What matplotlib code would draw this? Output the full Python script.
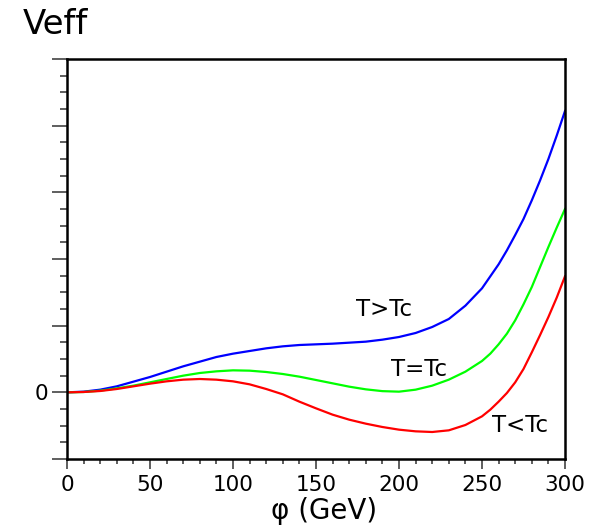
import matplotlib
matplotlib.use("Agg")
import matplotlib.pyplot as plt
from matplotlib.ticker import MultipleLocator, FixedLocator, FixedFormatter

plt.rcParams['font.family'] = ['DejaVu Sans']

phi = [0, 10, 20, 30, 40, 50, 60, 70, 80, 90, 100, 110, 120, 130, 140, 150,
       160, 170, 180, 190, 200, 210, 220, 230, 240, 250, 255, 260, 265, 270,
       275, 280, 285, 290, 295, 300]

v_above = [0, 0.01, 0.04, 0.09, 0.16, 0.23, 0.31, 0.39, 0.46, 0.53, 0.58, 0.62,
           0.66, 0.69, 0.71, 0.72, 0.73, 0.745, 0.76, 0.79, 0.83, 0.89, 0.98,
           1.10, 1.30, 1.56, 1.74, 1.92, 2.13, 2.36, 2.60, 2.88, 3.18, 3.50,
           3.85, 4.22]

v_crit = [0, 0.005, 0.025, 0.06, 0.10, 0.15, 0.20, 0.25, 0.29, 0.315, 0.33,
          0.325, 0.305, 0.275, 0.235, 0.185, 0.135, 0.085, 0.045, 0.018, 0.01,
          0.04, 0.10, 0.19, 0.31, 0.47, 0.58, 0.72, 0.88, 1.08, 1.32, 1.58,
          1.88, 2.18, 2.47, 2.75]

v_below = [0, 0.005, 0.02, 0.05, 0.09, 0.13, 0.165, 0.19, 0.20, 0.19, 0.165,
           0.12, 0.05, -0.03, -0.14, -0.24, -0.335, -0.41, -0.47, -0.52, -0.56,
           -0.585, -0.595, -0.57, -0.49, -0.36, -0.26, -0.14, -0.01, 0.15,
           0.35, 0.60, 0.86, 1.13, 1.42, 1.74]

labels = ["T>Tc", "T=Tc", "T<Tc"]
label_x = [191, 212, 273]
label_y = [1.25, 0.34, -0.5]

x_ticks = [0, 50, 100, 150, 200, 250, 300]
y_ticks = [-1, 0, 1, 2, 3, 4, 5]
y_ticklabels = ["", "0", "", "", "", "", ""]

fig = plt.figure(figsize=(6.03, 5.25), dpi=100)
ax = fig.add_axes([67/603, 1 - 459/525, (565 - 67)/603, (459 - 59)/525])

colors = ["#0000ff", "#00ff00", "#ff0000"]
for ys, c in zip([v_above, v_crit, v_below], colors):
    ax.plot(phi, ys, color=c, lw=1.6, solid_joinstyle='round')

for t, lx, ly in zip(labels, label_x, label_y):
    ax.text(lx, ly, t, fontsize=16.5, ha='center', va='center', color='black')

ax.set_xlim(0, 300)
ax.set_ylim(-1, 5)
ax.xaxis.set_major_locator(FixedLocator(x_ticks))
ax.xaxis.set_minor_locator(MultipleLocator(10))
ax.yaxis.set_major_locator(FixedLocator(y_ticks))
ax.yaxis.set_major_formatter(FixedFormatter(y_ticklabels))
ax.yaxis.set_minor_locator(MultipleLocator(0.25))

for s in ax.spines.values():
    s.set_linewidth(1.8)
    s.set_color('black')

ax.tick_params(axis='x', which='major', direction='out', length=7.5, width=1.1,
               labelsize=15.5, pad=4, color='#333333', top=False)
ax.tick_params(axis='x', which='minor', direction='out', length=3.8, width=1.1,
               color='#333333', top=False)
ax.tick_params(axis='y', which='major', direction='out', length=10.5, width=1.1,
               labelsize=15.5, pad=3, color='#333333', right=False)
ax.tick_params(axis='y', which='minor', direction='out', length=5, width=1.1,
               color='#333333', right=False)

fig.text(324/603, 1 - 511/525, "φ (GeV)", fontsize=20, ha='center', va='center')
fig.text(23/603, 1 - 25/525, "Veff", fontsize=24.5, ha='left', va='center')

fig.savefig("out.png", dpi=100)
